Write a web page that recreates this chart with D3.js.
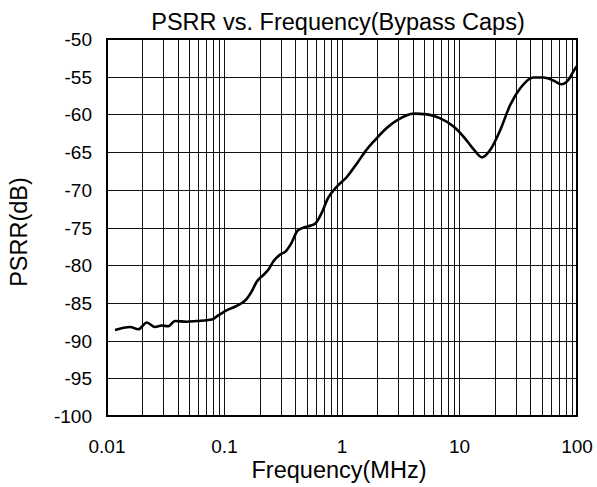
<!DOCTYPE html>
<html><head><meta charset="utf-8">
<script src="https://cdn.jsdelivr.net/npm/d3@7/dist/d3.min.js"></script>
<style>body{margin:0;background:#fff}svg{display:block}text{font-family:"Liberation Sans",Arial,sans-serif;fill:#000}</style>
</head><body>
<script>
const freqMHz = [0.0117,0.0157,0.0185,0.0218,0.0256,0.0292,0.0332,0.0379,0.0476,0.058,0.078,0.086,0.104,0.127,0.154,0.17,0.188,0.214,0.236,0.26,0.297,0.33,0.37,0.42,0.50,0.59,0.67,0.76,0.90,1.10,1.34,1.58,1.91,2.4,3.0,4.07,5.3,6.8,8.9,10.9,13.3,15.6,18.3,22.2,27,33,42.3,51.8,62.8,73.5,84.7,91.6,99.5];
const psrrDb = [-88.6,-88.2,-88.5,-87.6,-88.2,-88.0,-88.1,-87.4,-87.5,-87.4,-87.2,-86.8,-86.0,-85.4,-84.5,-83.5,-82.2,-81.3,-80.6,-79.5,-78.6,-78.2,-77.1,-75.4,-74.9,-74.5,-73.1,-71.1,-69.6,-68.3,-66.5,-64.9,-63.4,-61.8,-60.7,-59.9,-60.0,-60.5,-61.6,-63.0,-64.7,-65.7,-64.7,-62.1,-58.75,-56.5,-55.1,-55.1,-55.5,-56.0,-55.4,-54.5,-53.6];
const xTicks = [0.01,0.1,1,10,100];
const xTickLabels = ["0.01","0.1","1","10","100"];
const yTicks = [-50,-55,-60,-65,-70,-75,-80,-85,-90,-95,-100];
const title = "PSRR vs. Frequency(Bypass Caps)";
const xTitle = "Frequency(MHz)";
const yTitle = "PSRR(dB)";

const W = 597, H = 487;
const L = 107, R = 577, T = 39, B = 416;
const svg = d3.select("body").append("svg").attr("width", W).attr("height", H);
const x = d3.scaleLog().domain([0.01, 100]).range([L, R]);
const y = d3.scaleLinear().domain([-100, -50]).range([B, T]);

const vgrid = [];
for (let e = -2; e < 2; e++) for (let m = 1; m <= 9; m++) vgrid.push(m * Math.pow(10, e));
const g = svg.append("g");
g.selectAll(".vg").data(vgrid.filter(v => v > 0.01)).enter().append("line")
  .attr("x1", d => Math.round(x(d)) + 0.5).attr("x2", d => Math.round(x(d)) + 0.5)
  .attr("y1", T).attr("y2", B).attr("stroke", "#111").attr("stroke-width", 1);
g.selectAll(".hg").data(yTicks).enter().append("line")
  .attr("x1", L).attr("x2", R)
  .attr("y1", d => Math.round(y(d)) + 0.5).attr("y2", d => Math.round(y(d)) + 0.5)
  .attr("stroke", "#111").attr("stroke-width", 1);

const line = d3.line().x((d, i) => x(freqMHz[i])).y(d => y(d)).curve(d3.curveMonotoneX);
svg.append("path").datum(psrrDb).attr("d", line).attr("fill", "none")
  .attr("stroke", "#000").attr("stroke-width", 2.6).attr("stroke-linejoin", "round");

svg.append("rect").attr("x", L).attr("y", T).attr("width", R - L).attr("height", B - T)
  .attr("fill", "none").attr("stroke", "#000").attr("stroke-width", 2);

svg.selectAll(".yl").data(yTicks).enter().append("text")
  .attr("x", 92).attr("y", d => y(d) + 7).attr("text-anchor", "end")
  .attr("font-size", 19).text(d => d);
svg.selectAll(".xl").data(xTicks).enter().append("text")
  .attr("x", d => x(d)).attr("y", 453).attr("text-anchor", "middle")
  .attr("font-size", 19).text((d, i) => xTickLabels[i]);

svg.append("text").attr("x", 338).attr("y", 30)
  .attr("text-anchor", "middle").attr("font-size", 23.5).text(title);
svg.append("text").attr("x", 339).attr("y", 478)
  .attr("text-anchor", "middle").attr("font-size", 23.5).text(xTitle);
svg.append("text").attr("transform", `translate(27,232) rotate(-90)`)
  .attr("text-anchor", "middle").attr("font-size", 23.5).text(yTitle);
</script>
</body></html>
